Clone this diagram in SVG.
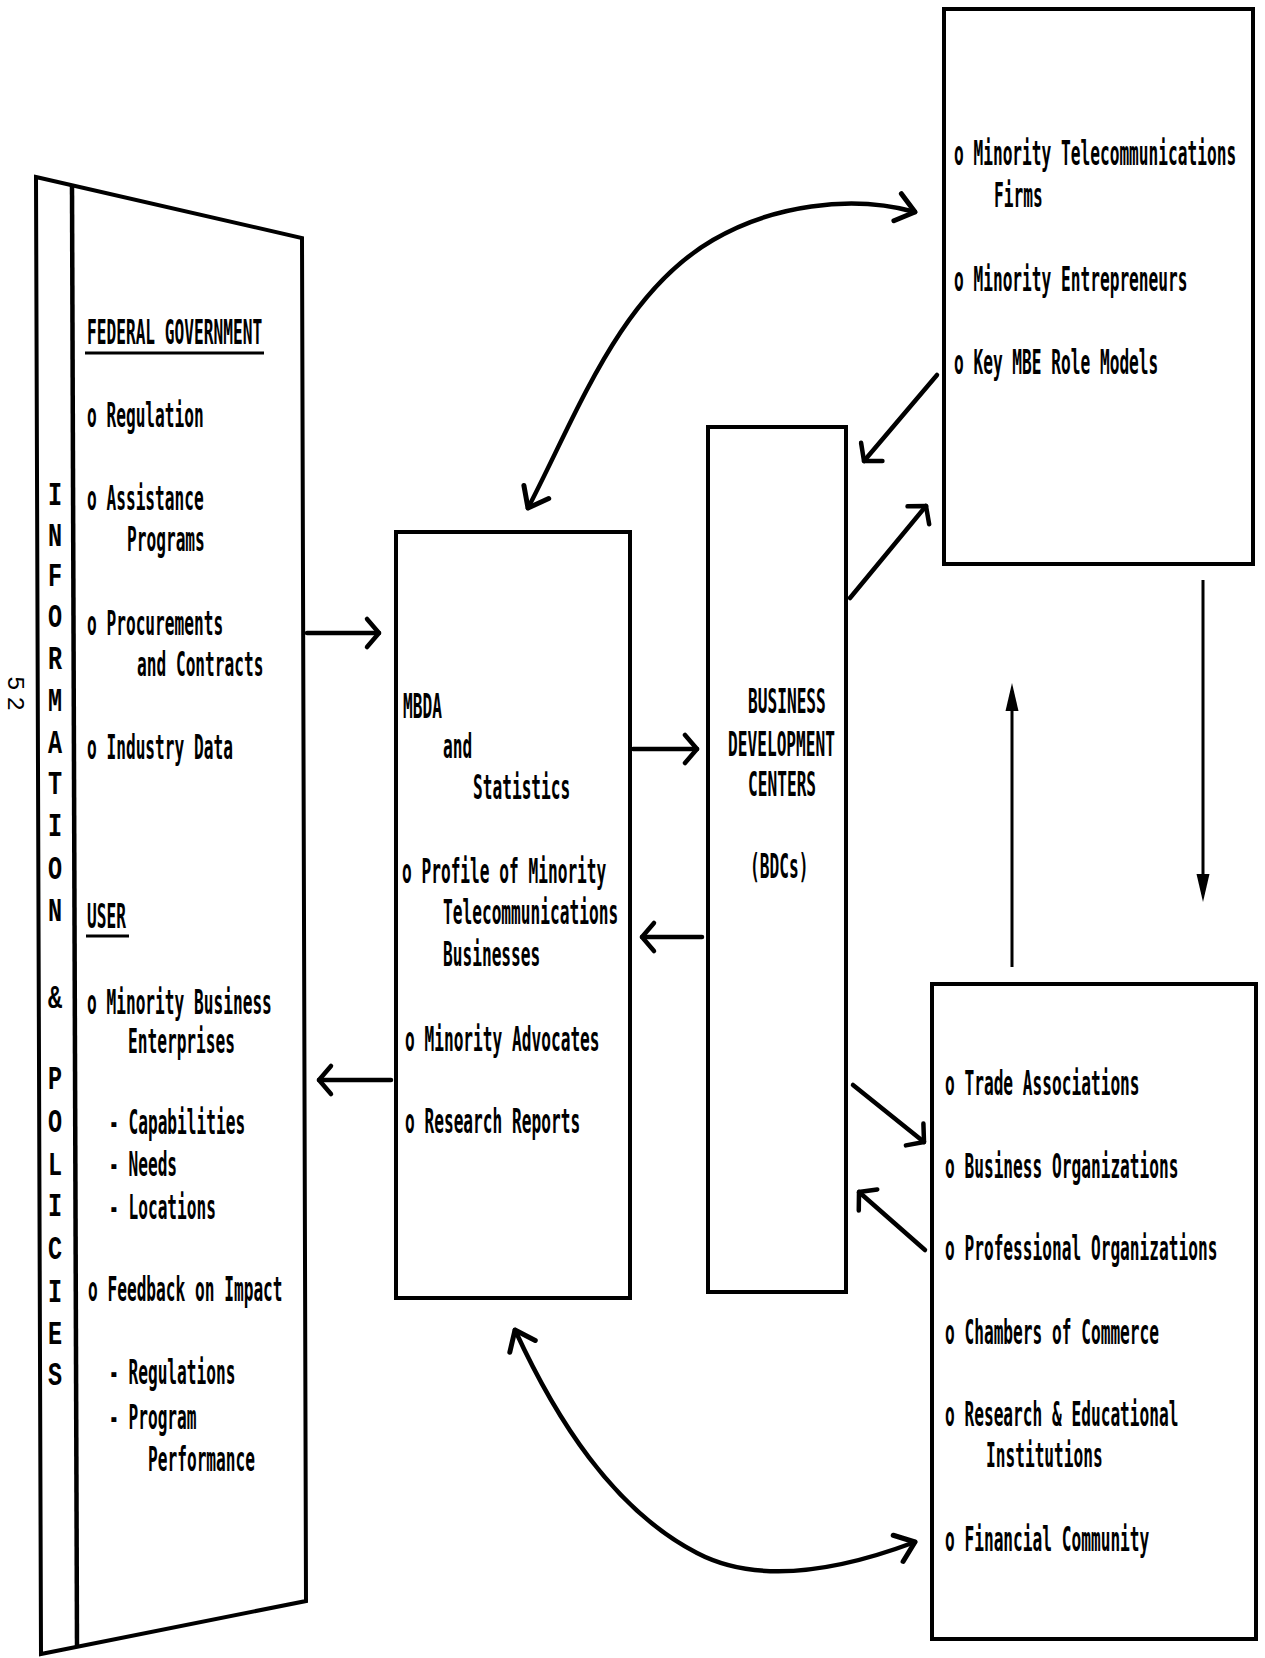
<svg xmlns="http://www.w3.org/2000/svg" width="1265" height="1658" viewBox="0 0 1265 1658">
<style>
.t{font-family:"DejaVu Sans Mono","Liberation Mono",monospace;font-weight:bold;font-size:33px;fill:#000}
.v{font-family:"Liberation Mono","DejaVu Sans Mono",monospace;font-weight:bold;font-size:34px;fill:#000;text-anchor:middle}
.pg{font-family:"Liberation Mono","DejaVu Sans Mono",monospace;font-size:24px;fill:#000}
.box{fill:none;stroke:#000;stroke-width:4}
.c{fill:none;stroke:#000;stroke-width:4.5;stroke-linecap:round}
.thin{fill:none;stroke:#000;stroke-width:3}
</style>
<defs>
<marker id="chev" viewBox="-24 -20 30 40" markerWidth="30" markerHeight="40" refX="0" refY="0" orient="auto-start-reverse" markerUnits="userSpaceOnUse" overflow="visible">
<path d="M -12 -14 L 0 0 L -12 14" fill="none" stroke="#000" stroke-width="4.5" stroke-linecap="round" stroke-linejoin="round"/>
</marker>
<marker id="chevL" viewBox="-24 -20 30 40" markerWidth="30" markerHeight="40" refX="0" refY="0" orient="auto-start-reverse" markerUnits="userSpaceOnUse" overflow="visible">
<path d="M -18 -14 L 0 0 L -18 14" fill="none" stroke="#000" stroke-width="5" stroke-linecap="round" stroke-linejoin="round"/>
</marker>
<marker id="tri" viewBox="-24 -10 34 20" markerWidth="34" markerHeight="20" refX="0" refY="0" orient="auto" markerUnits="userSpaceOnUse" overflow="visible">
<path d="M -20 -6.5 L 8 0 L -20 6.5 Z" fill="#000"/>
</marker>
</defs>
<rect x="0" y="0" width="1265" height="1658" fill="#fff"/>

<g id="page-number">
<text class="pg" transform="translate(8,676) rotate(90)" letter-spacing="6">52</text>
</g>

<g id="node-info-policies">
<polygon class="box" points="36,177 302,238 306,1601 41,1654" stroke-width="5" stroke-linejoin="miter"/>
<line x1="72" y1="185" x2="77" y2="1647" stroke="#000" stroke-width="4.5"/>
<text class="v" transform="translate(55,505) scale(0.69,1)">I</text>
<text class="v" transform="translate(55,546) scale(0.69,1)">N</text>
<text class="v" transform="translate(55,586) scale(0.69,1)">F</text>
<text class="v" transform="translate(55,627) scale(0.69,1)">O</text>
<text class="v" transform="translate(55,669) scale(0.69,1)">R</text>
<text class="v" transform="translate(55,711) scale(0.69,1)">M</text>
<text class="v" transform="translate(55,753) scale(0.69,1)">A</text>
<text class="v" transform="translate(55,794) scale(0.69,1)">T</text>
<text class="v" transform="translate(55,836) scale(0.69,1)">I</text>
<text class="v" transform="translate(55,879) scale(0.69,1)">O</text>
<text class="v" transform="translate(55,921) scale(0.69,1)">N</text>
<text class="v" transform="translate(55,1008) scale(0.69,1)">&amp;</text>
<text class="v" transform="translate(55,1089) scale(0.69,1)">P</text>
<text class="v" transform="translate(55,1132) scale(0.69,1)">O</text>
<text class="v" transform="translate(55,1175) scale(0.69,1)">L</text>
<text class="v" transform="translate(55,1216) scale(0.69,1)">I</text>
<text class="v" transform="translate(55,1259) scale(0.69,1)">C</text>
<text class="v" transform="translate(55,1302) scale(0.69,1)">I</text>
<text class="v" transform="translate(55,1344) scale(0.69,1)">E</text>
<text class="v" transform="translate(55,1385) scale(0.69,1)">S</text>
<text class="t" transform="translate(87,344) scale(0.49,1)">FEDERAL GOVERNMENT</text>
<line x1="85" y1="353" x2="264" y2="353" stroke="#000" stroke-width="3"/>
<text class="t" transform="translate(87,427) scale(0.49,1)">o Regulation</text>
<text class="t" transform="translate(87,510) scale(0.49,1)">o Assistance</text>
<text class="t" transform="translate(127,551) scale(0.49,1)">Programs</text>
<text class="t" transform="translate(87,635) scale(0.49,1)">o Procurements</text>
<text class="t" transform="translate(137,676) scale(0.49,1)">and Contracts</text>
<text class="t" transform="translate(87,759) scale(0.49,1)">o Industry Data</text>
<text class="t" transform="translate(87,928) scale(0.49,1)">USER</text>
<line x1="86" y1="936" x2="129" y2="936" stroke="#000" stroke-width="3"/>
<text class="t" transform="translate(87,1014) scale(0.49,1)">o Minority Business</text>
<text class="t" transform="translate(128,1053) scale(0.49,1)">Enterprises</text>
<text class="t" transform="translate(109,1134) scale(0.49,1)">- Capabilities</text>
<text class="t" transform="translate(109,1176) scale(0.49,1)">- Needs</text>
<text class="t" transform="translate(109,1219) scale(0.49,1)">- Locations</text>
<text class="t" transform="translate(88,1301) scale(0.49,1)">o Feedback on Impact</text>
<text class="t" transform="translate(109,1384) scale(0.49,1)">- Regulations</text>
<text class="t" transform="translate(109,1429) scale(0.49,1)">- Program</text>
<text class="t" transform="translate(148,1471) scale(0.49,1)">Performance</text>
</g>

<g id="node-mbda">
<rect class="box" x="396" y="532" width="234" height="766"/>
<text class="t" transform="translate(403,718) scale(0.49,1)">MBDA</text>
<text class="t" transform="translate(443,758) scale(0.49,1)">and</text>
<text class="t" transform="translate(473,799) scale(0.49,1)">Statistics</text>
<text class="t" transform="translate(402,883) scale(0.49,1)">o Profile of Minority</text>
<text class="t" transform="translate(443,924) scale(0.49,1)">Telecommunications</text>
<text class="t" transform="translate(443,966) scale(0.49,1)">Businesses</text>
<text class="t" transform="translate(405,1051) scale(0.49,1)">o Minority Advocates</text>
<text class="t" transform="translate(405,1133) scale(0.49,1)">o Research Reports</text>
</g>

<g id="node-bdc">
<rect class="box" x="708" y="427" width="138" height="865"/>
<text class="t" transform="translate(748,713) scale(0.49,1)">BUSINESS</text>
<text class="t" transform="translate(728,756) scale(0.49,1)">DEVELOPMENT</text>
<text class="t" transform="translate(748,796) scale(0.49,1)">CENTERS</text>
<text class="t" transform="translate(750,878) scale(0.49,1)">(BDCs)</text>
</g>

<g id="node-minority-firms">
<rect class="box" x="944" y="9" width="309" height="555"/>
<text class="t" transform="translate(954,165) scale(0.49,1)">o Minority Telecommunications</text>
<text class="t" transform="translate(994,207) scale(0.49,1)">Firms</text>
<text class="t" transform="translate(954,291) scale(0.49,1)">o Minority Entrepreneurs</text>
<text class="t" transform="translate(954,374) scale(0.49,1)">o Key MBE Role Models</text>
</g>

<g id="node-organizations">
<rect class="box" x="932" y="984" width="324" height="655"/>
<text class="t" transform="translate(945,1095) scale(0.49,1)">o Trade Associations</text>
<text class="t" transform="translate(945,1178) scale(0.49,1)">o Business Organizations</text>
<text class="t" transform="translate(945,1260) scale(0.49,1)">o Professional Organizations</text>
<text class="t" transform="translate(945,1344) scale(0.49,1)">o Chambers of Commerce</text>
<text class="t" transform="translate(945,1426) scale(0.49,1)">o Research &amp; Educational</text>
<text class="t" transform="translate(986,1467) scale(0.49,1)">Institutions</text>
<text class="t" transform="translate(945,1551) scale(0.49,1)">o Financial Community</text>
</g>

<g id="connectors">
<path class="c" d="M 307 633 L 379 633" marker-end="url(#chev)"/>
<path class="c" d="M 633 749 L 697 749" marker-end="url(#chev)"/>
<path class="c" d="M 702 937 L 642 937" marker-end="url(#chev)"/>
<path class="c" d="M 391 1080 L 319 1080" marker-end="url(#chev)"/>
<path class="c" d="M 528 508 C 578 412 620 294 713 240 C 771 206 850 194 915 212" marker-start="url(#chevL)" marker-end="url(#chevL)"/>
<path class="c" d="M 515 1330 C 555 1417 612 1509 697 1553 C 762 1587 846 1568 915 1542" stroke-width="5" marker-start="url(#chevL)" marker-end="url(#chevL)"/>
<path class="c" d="M 937 375 L 864 461" marker-end="url(#chev)"/>
<path class="c" d="M 850 598 L 926 506" marker-end="url(#chev)"/>
<path class="c" d="M 853 1085 L 924 1142" marker-end="url(#chev)"/>
<path class="c" d="M 925 1250 L 859 1192" marker-end="url(#chev)"/>
<path class="thin" d="M 1203 580 L 1203 894" marker-end="url(#tri)"/>
<path class="thin" d="M 1012 967 L 1012 691" marker-end="url(#tri)"/>
</g>
</svg>
